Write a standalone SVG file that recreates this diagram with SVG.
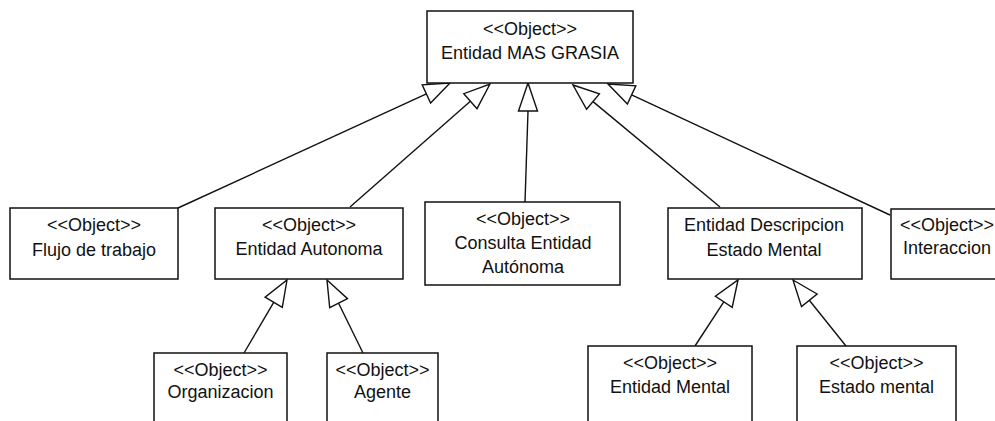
<svg xmlns="http://www.w3.org/2000/svg" width="995" height="421" viewBox="0 0 995 421">
<style>
.box{fill:#fff;stroke:#111;stroke-width:1.5}
.t{font-family:"Liberation Sans",Arial,sans-serif;font-size:18px;fill:#111;text-anchor:middle}
.ln{stroke:#111;stroke-width:1.4;fill:none}
.hd{fill:#fff;stroke:#111;stroke-width:1.4;stroke-linejoin:miter}
</style>
<rect width="995" height="421" fill="#fff"/>
<g id="connectors">
<line class="ln" x1="178" y1="208" x2="426.4" y2="93.9"/>
<polygon class="hd" points="450,83 430.6,103 422.2,84.8"/>
<line class="ln" x1="350" y1="207" x2="470.4" y2="101.2"/>
<polygon class="hd" points="490,84 477,108.7 463.8,93.7"/>
<line class="ln" x1="525" y1="202" x2="528" y2="111"/>
<polygon class="hd" points="528,83 518.5,111 537.5,111"/>
<line class="ln" x1="720" y1="207" x2="593" y2="101.6"/>
<polygon class="hd" points="573,85 599.4,93.9 586.6,109.3"/>
<line class="ln" x1="890" y1="215" x2="631.6" y2="94.9"/>
<polygon class="hd" points="608,84 635.8,85.8 627.4,104"/>
<line class="ln" x1="244" y1="353" x2="273.7" y2="302.3"/>
<polygon class="hd" points="287,280 282.3,307.4 265.1,297.2"/>
<line class="ln" x1="363" y1="353" x2="338.6" y2="303.2"/>
<polygon class="hd" points="327,280 347.5,298.7 329.7,307.7"/>
<line class="ln" x1="695" y1="346" x2="723.8" y2="301.8"/>
<polygon class="hd" points="738,280 732.2,307.3 715.4,296.3"/>
<line class="ln" x1="846" y1="346" x2="809.3" y2="300.3"/>
<polygon class="hd" points="793,280 817.1,294 801.5,306.6"/>
</g>
<g id="entidad-mas-grasia">
<rect class="box" x="427" y="11" width="206" height="72"/>
<text class="t" x="530" y="35">&lt;&lt;Object&gt;&gt;</text>
<text class="t" x="530" y="59">Entidad MAS GRASIA</text>
</g>
<g id="flujo-de-trabajo">
<rect class="box" x="10" y="208" width="168" height="71"/>
<text class="t" x="94" y="231">&lt;&lt;Object&gt;&gt;</text>
<text class="t" x="94" y="256">Flujo de trabajo</text>
</g>
<g id="entidad-autonoma">
<rect class="box" x="215" y="208" width="188" height="71"/>
<text class="t" x="309" y="231">&lt;&lt;Object&gt;&gt;</text>
<text class="t" x="309" y="255">Entidad Autonoma</text>
</g>
<g id="consulta-entidad-autonoma">
<rect class="box" x="425" y="202" width="195" height="83"/>
<text class="t" x="523" y="225">&lt;&lt;Object&gt;&gt;</text>
<text class="t" x="523" y="249">Consulta Entidad</text>
<text class="t" x="523" y="273">Autónoma</text>
</g>
<g id="entidad-descripcion-estado-mental">
<rect class="box" x="668" y="208" width="194" height="71"/>
<text class="t" x="764" y="231">Entidad Descripcion</text>
<text class="t" x="764" y="256">Estado Mental</text>
</g>
<g id="interaccion">
<rect class="box" x="891" y="209" width="120" height="70"/>
<text class="t" x="947" y="231">&lt;&lt;Object&gt;&gt;</text>
<text class="t" x="947" y="254">Interaccion</text>
</g>
<g id="organizacion">
<rect class="box" x="154" y="353" width="133" height="80"/>
<text class="t" x="220.5" y="376">&lt;&lt;Object&gt;&gt;</text>
<text class="t" x="220.5" y="398">Organizacion</text>
</g>
<g id="agente">
<rect class="box" x="327" y="353" width="111" height="80"/>
<text class="t" x="382.5" y="376">&lt;&lt;Object&gt;&gt;</text>
<text class="t" x="382.5" y="398">Agente</text>
</g>
<g id="entidad-mental">
<rect class="box" x="588" y="346" width="164" height="90"/>
<text class="t" x="670" y="369">&lt;&lt;Object&gt;&gt;</text>
<text class="t" x="670" y="393">Entidad Mental</text>
</g>
<g id="estado-mental">
<rect class="box" x="797" y="346" width="159" height="90"/>
<text class="t" x="876.5" y="369">&lt;&lt;Object&gt;&gt;</text>
<text class="t" x="876.5" y="393">Estado mental</text>
</g>
</svg>
